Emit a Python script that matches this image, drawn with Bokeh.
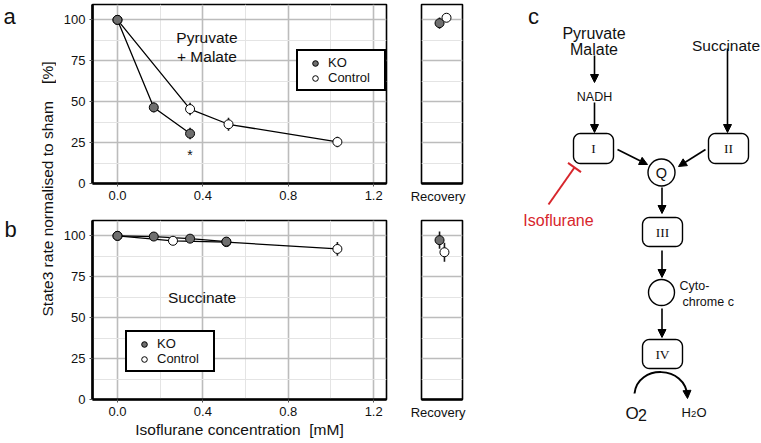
import numpy as np
from bokeh.plotting import figure
from bokeh.layouts import row, column
from bokeh.models import (FixedTicker, Label, Legend, LegendItem, Arrow, NormalHead,
                          Range1d, PrintfTickFormatter)
from bokeh.embed import file_html
from bokeh.resources import INLINE

FONT = "Liberation Sans"
SERIF = "Liberation Serif"

# ---------------- data ----------------
# panel a : Pyruvate + Malate
a_ko_conc = [0.0, 0.17, 0.34]
a_ko_rate = [100.0, 46.5, 30.5]
a_ko_err = [0.0, 3.0, 3.5]
a_ctrl_conc = [0.0, 0.34, 0.52, 1.03]
a_ctrl_rate = [100.0, 45.5, 36.2, 25.4]
a_ctrl_err = [0.0, 3.8, 4.0, 3.2]
a_rec_ko = [98.0]
a_rec_ko_err = [3.4]
a_rec_ctrl = [101.3]
a_rec_ctrl_err = [1.5]

# panel b : Succinate
b_ko_conc = [0.0, 0.17, 0.34, 0.51]
b_ko_rate = [100.0, 99.6, 98.3, 96.5]
b_ko_err = [0.0, 1.0, 1.6, 1.5]
b_ctrl_conc = [0.0, 0.26, 0.51, 1.03]
b_ctrl_rate = [100.0, 97.0, 96.2, 92.0]
b_ctrl_err = [0.0, 1.3, 1.5, 4.2]
b_rec_ko = [97.4]
b_rec_ko_err = [5.3]
b_rec_ctrl = [90.0]
b_rec_ctrl_err = [5.8]

x_ticks = [0.0, 0.4, 0.8, 1.2]
x_minor = [0.2, 0.6, 1.0]
y_ticks = [0, 25, 50, 75, 100]
y_minor = [12.5, 37.5, 62.5, 87.5]
series_labels = ["KO", "Control"]

KO_FILL = "#6f6f6f"
MAJOR_GRID = "#bcbcbc"
MINOR_GRID = "#e4e4e4"
FRAME_H = 179
YMAX = 109.4
TOTAL_H = 441


def style_common(p):
    p.background_fill_color = "white"
    p.border_fill_color = "white"
    p.outline_line_color = "black"
    p.outline_line_width = 1.6
    p.ygrid.ticker = FixedTicker(ticks=y_ticks, minor_ticks=y_minor)
    p.ygrid.grid_line_color = MAJOR_GRID
    p.ygrid.grid_line_width = 1.6
    p.ygrid.minor_grid_line_color = MINOR_GRID
    p.ygrid.minor_grid_line_width = 1
    p.xaxis.axis_line_width = 2.6
    p.xaxis.axis_line_color = "black"
    p.xaxis.major_label_text_font = FONT
    p.xaxis.major_label_text_font_size = "13px"
    p.xaxis.major_label_text_color = "#111111"
    p.xaxis.minor_tick_line_color = None


def add_points(p, xs, ys, errs, fill):
    xs = np.asarray(xs, float)
    ys = np.asarray(ys, float)
    errs = np.asarray(errs, float)
    p.segment(x0=xs, y0=ys - errs, x1=xs, y1=ys + errs, line_color="#1a1a1a", line_width=1.6)
    return p.scatter(xs, ys, size=9, fill_color=fill, line_color="black", line_width=1)


def make_main(ko_c, ko_r, ko_e, ct_c, ct_r, ct_e, top, bottom, legend_loc):
    p = figure(frame_width=294, frame_height=FRAME_H,
               x_range=Range1d(-0.117, 1.26), y_range=Range1d(0, YMAX),
               min_border_left=36, min_border_right=2,
               min_border_top=top, min_border_bottom=bottom,
               output_backend="svg", toolbar_location=None)
    style_common(p)
    p.xaxis.ticker = FixedTicker(ticks=x_ticks, minor_ticks=x_minor)
    p.xaxis.formatter = PrintfTickFormatter(format="%.1f")
    p.xgrid.grid_line_color = MAJOR_GRID
    p.xgrid.grid_line_width = 1.6
    p.xgrid.minor_grid_line_color = MINOR_GRID
    p.xgrid.minor_grid_line_width = 1
    p.yaxis.ticker = FixedTicker(ticks=y_ticks, minor_ticks=y_minor)
    p.yaxis.axis_line_width = 2.6
    p.yaxis.axis_line_color = "black"
    p.yaxis.major_label_text_font = FONT
    p.yaxis.major_label_text_font_size = "13px"
    p.yaxis.major_label_text_color = "#111111"
    p.yaxis.minor_tick_line_color = None
    for ax in (p.xaxis, p.yaxis):
        ax.major_tick_in = 0
        ax.major_tick_out = 3
        ax.major_tick_line_color = "#555555"
        ax.major_label_standoff = 3

    p.line(ct_c, ct_r, line_color="black", line_width=1.3)
    p.line(ko_c, ko_r, line_color="black", line_width=1.3)
    r_ct = add_points(p, ct_c, ct_r, ct_e, "white")
    r_ko = add_points(p, ko_c, ko_r, ko_e, KO_FILL)

    legend = Legend(items=[LegendItem(label=series_labels[0], renderers=[r_ko]),
                           LegendItem(label=series_labels[1], renderers=[r_ct])],
                    location=legend_loc)
    legend.border_line_color = "black"
    legend.border_line_width = 2
    legend.border_line_alpha = 1
    legend.background_fill_color = "white"
    legend.background_fill_alpha = 1
    legend.padding = 4
    legend.spacing = 0
    legend.margin = 0
    legend.glyph_height = 14
    legend.glyph_width = 26
    legend.label_height = 14
    legend.label_width = 52
    legend.label_standoff = 0
    legend.label_text_font = FONT
    legend.label_text_font_size = "13px"
    legend.label_text_color = "#111111"
    p.add_layout(legend)
    return p


def make_rec(ko_v, ko_e, ct_v, ct_e, dodge, top, bottom):
    p = figure(frame_width=41, frame_height=FRAME_H,
               x_range=Range1d(0, 1), y_range=Range1d(0, YMAX),
               min_border_left=33, min_border_right=5,
               min_border_top=top, min_border_bottom=bottom,
               output_backend="svg", toolbar_location=None)
    style_common(p)
    p.yaxis.visible = False
    p.xgrid.visible = False
    p.xaxis.ticker = FixedTicker(ticks=[0.5])
    p.xaxis.major_label_overrides = {0.5: "Recovery"}
    p.xaxis.major_tick_line_color = None
    p.xaxis.major_tick_in = 0
    p.xaxis.major_tick_out = 0
    p.xaxis.major_label_standoff = 5
    add_points(p, [dodge[0]], ko_v, ko_e, KO_FILL)
    add_points(p, [dodge[1]], ct_v, ct_e, "white")
    return p


# ---------------- panel a ----------------
pa = make_main(a_ko_conc, a_ko_rate, a_ko_err, a_ctrl_conc, a_ctrl_rate, a_ctrl_err,
               top=4, bottom=36, legend_loc=(204, 92))
for txt, yy in (("Pyruvate", 89.2), ("+ Malate", 77.5)):
    pa.add_layout(Label(x=0.419, y=yy, text=txt, text_font=FONT, text_font_size="15.5px",
                        text_align="center", text_baseline="alphabetic", text_color="#111111"))
pa.add_layout(Label(x=a_ko_conc[-1], y=17.5, text="*", text_font=FONT, text_font_size="14px",
                    text_align="center", text_baseline="alphabetic", text_color="#111111"))
ra = make_rec(a_rec_ko, a_rec_ko_err, a_rec_ctrl, a_rec_ctrl_err, (0.44, 0.61), top=4, bottom=36)

# ---------------- panel b ----------------
pb = make_main(b_ko_conc, b_ko_rate, b_ko_err, b_ctrl_conc, b_ctrl_rate, b_ctrl_err,
               top=1, bottom=42, legend_loc=(33, 27))
pb.add_layout(Label(x=0.396, y=62.5, text="Succinate", text_font=FONT, text_font_size="15.5px",
                    text_align="center", text_baseline="alphabetic", text_color="#111111"))
pb.xaxis.axis_label = "Isoflurane concentration\u00a0\u00a0[mM]"
pb.xaxis.axis_label_text_font = FONT
pb.xaxis.axis_label_text_font_size = "15.5px"
pb.xaxis.axis_label_text_font_style = "normal"
pb.xaxis.axis_label_text_color = "#111111"
pb.xaxis.axis_label_standoff = 2
rb = make_rec(b_rec_ko, b_rec_ko_err, b_rec_ctrl, b_rec_ctrl_err, (0.44, 0.56), top=1, bottom=42)

# ---------------- left strip: panel letters + y label ----------------
strip = figure(width=56, height=TOTAL_H, x_range=Range1d(0, 56), y_range=Range1d(TOTAL_H, 0),
               min_border=0, x_axis_location=None, y_axis_location=None,
               output_backend="svg", toolbar_location=None)
strip.grid.visible = False
strip.outline_line_color = None
strip.add_layout(Label(x=3, y=16, text="a", text_font=FONT, text_font_size="22px",
                       text_align="left", text_baseline="alphabetic", text_color="#111111"))
strip.add_layout(Label(x=4, y=229, text="b", text_font=FONT, text_font_size="22px",
                       text_align="left", text_baseline="alphabetic", text_color="#111111"))
strip.add_layout(Label(x=47, y=188.5, angle=np.pi / 2,
                       text="State3 rate normalised to sham\u00a0\u00a0\u00a0\u00a0[%]",
                       text_font=FONT, text_font_size="15.5px", text_align="center",
                       text_baseline="middle", text_color="#111111"))

# ---------------- panel c: diagram ----------------
C_LEFT = 467
c = figure(width=761 - C_LEFT, height=TOTAL_H, x_range=Range1d(C_LEFT, 761),
           y_range=Range1d(TOTAL_H, 0),
           min_border=0, x_axis_location=None, y_axis_location=None,
           output_backend="svg", toolbar_location=None)
c.grid.visible = False
c.outline_line_color = None


def rbox(x0, y0, x1, y1, r=7, n=8):
    xs, ys = [], []
    corners = [(x1 - r, y0 + r, -np.pi / 2, 0), (x1 - r, y1 - r, 0, np.pi / 2),
               (x0 + r, y1 - r, np.pi / 2, np.pi), (x0 + r, y0 + r, np.pi, 1.5 * np.pi)]
    for cx, cy, a0, a1 in corners:
        t = np.linspace(a0, a1, n)
        xs.extend(cx + r * np.cos(t))
        ys.extend(cy + r * np.sin(t))
    return xs, ys


boxes = [((573, 133, 613, 163), "I", (593, 148)),
         ((708, 133, 748, 163), "II", (728, 148)),
         ((642, 217, 682, 246), "III", (662, 231.5)),
         ((642, 339, 682, 368), "IV", (662, 353.5))]
bx, by = [], []
for (x0, y0, x1, y1), _, _ in boxes:
    xx, yy = rbox(x0, y0, x1, y1)
    bx.append(xx)
    by.append(yy)
c.patches(bx, by, fill_color="white", line_color="black", line_width=1.4)
for _, lab, (tx, ty) in boxes:
    c.add_layout(Label(x=tx, y=ty, text=lab, text_font=SERIF, text_font_size="13.5px",
                       text_align="center", text_baseline="middle", text_color="#111111"))

c.circle(x=[661, 661], y=[172, 292], radius=[13.5, 13], fill_color="white",
         line_color="black", line_width=1.4)
c.add_layout(Label(x=661, y=172, text="Q", text_font=FONT, text_font_size="14.5px",
                   text_align="center", text_baseline="middle", text_color="#111111"))

arrows = [(594, 55, 594, 82), (594, 102, 594, 132), (727, 48, 727, 132),
          (617, 149, 647, 164), (705, 149, 678, 166), (661.5, 187, 661.5, 213),
          (661.5, 250, 661.5, 277), (661.5, 308, 661.5, 337)]
for x0, y0, x1, y1 in arrows:
    c.add_layout(Arrow(end=NormalHead(size=8, fill_color="black", line_color="black", line_width=1),
                       x_start=x0, y_start=y0, x_end=x1, y_end=y1,
                       line_color="black", line_width=1.6))

# O2 -> H2O arc
c.bezier(x0=634, y0=393, x1=687, y1=396, cx0=637, cy0=364, cx1=685, cy1=364,
         line_color="black", line_width=2)
c.add_layout(Arrow(end=NormalHead(size=8, fill_color="black", line_color="black", line_width=1),
                   x_start=686.6, y_start=392, x_end=687, y_end=398,
                   line_color="black", line_width=1.5))

# isoflurane inhibition
c.segment(x0=[548, 567.5], y0=[204, 162.4], x1=[574, 580.5], y1=[167, 171.6],
          line_color="#d7262c", line_width=2)

texts = [
    ("c", 533, 16, "22px", "center", "#111111"),
    ("Pyruvate", 593.5, 33.3, "16px", "center", "#111111"),
    ("Malate", 593.5, 49.3, "16px", "center", "#111111"),
    ("Succinate", 725.5, 45, "15.5px", "center", "#111111"),
    ("NADH", 594, 96.7, "12.5px", "center", "#111111"),
    ("Isoflurane", 558, 220, "16px", "center", "#d7262c"),
    ("Cyto-", 679, 285, "12.5px", "left", "#111111"),
    ("chrome c", 682, 301, "12.5px", "left", "#111111"),
    ("O", 625, 412.7, "17px", "left", "#111111"),
    ("2", 637.5, 414.3, "16px", "left", "#111111"),
    ("H", 681, 411.7, "13px", "left", "#111111"),
    ("2", 690.5, 413.7, "9.5px", "left", "#111111"),
    ("O", 696, 411.7, "13px", "left", "#111111"),
]
for t, x, y, fs, al, col in texts:
    c.add_layout(Label(x=x, y=y, text=t, text_font=FONT, text_font_size=fs,
                       text_align=al, text_baseline="alphabetic", text_color=col))

layout = row(strip, column(pa, pb), column(ra, rb), c)
open("out.html", "w").write(file_html(layout, INLINE))
